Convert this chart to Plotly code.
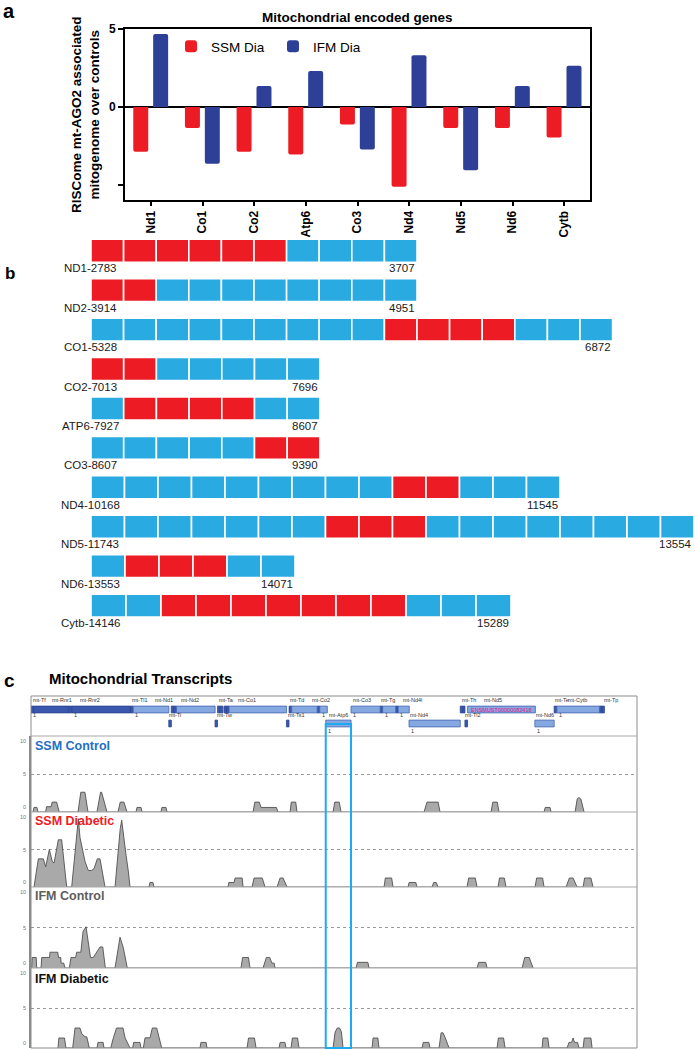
import plotly.graph_objects as go

W, H = 695, 1050
FONT = "Liberation Sans, Arial, sans-serif"
RED = "#ED1C24"
NAVY = "#2E3F98"
CELL_BLUE = "#29ABE2"


def fx(p):
    return p / W


def fy(p):
    return 1 - p / H


# ---------------- Panel a data ----------------
genes_a = ["Nd1", "Co1", "Co2", "Atp6", "Co3", "Nd4", "Nd5", "Nd6", "Cytb"]
ssm_dia = [-2.87, -1.34, -2.87, -3.04, -1.12, -5.11, -1.34, -1.34, -1.96]
ifm_dia = [4.68, -3.64, 1.34, 2.31, -2.72, 3.32, -4.05, 1.34, 2.65]

# ---------------- Panel b data ----------------
row_names = ["ND1-2783", "ND2-3914", "CO1-5328", "CO2-7013", "ATP6-7927",
             "CO3-8607", "ND4-10168", "ND5-11743", "ND6-13553", "Cytb-14146"]
row_ends = ["3707", "4951", "6872", "7696", "8607", "9390", "11545", "13554", "14071", "15289"]
row_cells = [
    "RRRRRRBBBB",
    "RRBBBBBBBB",
    "BBBBBBBBBRRRRBBB",
    "RRBBBBB",
    "BRRRRBB",
    "BBBBBRR",
    "BBBBBBBBBRRBBB",
    "BBBBBBBRRRBBBBBBBB",
    "BRRRBB",
    "BBRRRRRRRBBB",
]
# style: drawn cell size (px) per row, left start of rows
cell_w = [32.6, 32.6, 32.6, 32.7, 32.7, 32.7, 33.5, 33.5, 34.0, 35.0]
ROW_X0 = 91

# ---------------- Panel c data ----------------
gene_names = ["mt-Tf", "mt-Rnr1", "mt-Tv", "mt-Rnr2", "mt-Tl1", "mt-Nd1", "mt-Ti", "mt-Tq", "mt-Tm",
              "mt-Nd2", "mt-Tw", "mt-Ta", "mt-Tn", "mt-Tc", "mt-Ty", "mt-Co1", "mt-Ts1", "mt-Td",
              "mt-Co2", "mt-Tk", "mt-Atp8", "mt-Atp6", "mt-Co3", "mt-Tg", "mt-Nd3", "mt-Tr",
              "mt-Nd4l", "mt-Nd4", "mt-Th", "mt-Ts2", "mt-Tl2", "mt-Nd5", "mt-Nd6", "mt-Te",
              "mt-Cytb", "mt-Tt", "mt-Tp"]
gene_start = [1, 70, 1025, 1094, 2676, 2751, 3706, 3772, 3845, 3914, 4950, 5018, 5089, 5192, 5260,
              5328, 6870, 6942, 7013, 7700, 7766, 7927, 8607, 9391, 9459, 9808, 9877, 10167, 11545,
              11613, 11671, 11742, 13552, 14071, 14145, 15289, 15356]
gene_end = [68, 1024, 1093, 2675, 2750, 3707, 3774, 3842, 3913, 4951, 5016, 5086, 5159, 5257, 5326,
            6872, 6938, 7011, 7696, 7764, 7969, 8607, 9390, 9458, 9806, 9875, 10173, 11544, 11612,
            11671, 11741, 13565, 14070, 14139, 15288, 15355, 15422]
gene_kind = ["t", "r", "t", "r", "t", "m", "t", "t", "t", "m", "t", "t", "t", "t", "t", "m", "t", "t",
             "m", "t", "m", "m", "m", "t", "m", "t", "m", "m", "t", "t", "t", "m", "m", "t", "m", "t", "t"]
gene_row = [1, 1, 1, 1, 1, 1, 2, 1, 1, 1, 2, 1, 1, 1, 1, 1, 2, 1, 1, 1, 1, 2, 1, 1, 1, 1, 1, 2, 1, 1,
            2, 1, 2, 1, 1, 1, 1]

top_labels = ["mt-Tf", "mt-Rnr1", "mt-Rnr2", "mt-Tl1", "mt-Nd1", "mt-Nd2", "mt-Ta", "mt-Co1", "mt-Td",
              "mt-Co2", "mt-Co3", "mt-Tg", "mt-Nd4l", "mt-Th", "mt-Nd5", "mt-Te", "mt-Cytb", "mt-Tp"]
top_label_at = [0, 511, 1264, 2663, 3282, 3981, 5003, 5515, 6913, 7505, 8608, 9361, 9953, 11540,
                12132, 14042, 14392, 15360]
low_labels = ["mt-Ti", "mt-Tw", "mt-Ts1", "mt-Atp6", "mt-Nd4", "mt-Tl2", "mt-Nd6"]
low_label_at = [3658, 4950, 6860, 7962, 10141, 11621, 13530]
top_marks_at = [1, 1094, 2751, 7766, 8607, 9459, 9877, 14145]
low_marks_at = [7927, 10167, 13552]
transcript_id = "ENSMUST00000082418"
highlight_gene = "mt-Atp6"

track_names = ["SSM Control", "SSM Diabetic", "IFM Control", "IFM Diabetic"]
track_ticks = [0, 5, 10]
ssm_control = [(54, 0), (80, 0.6), (161, 0.6), (188, 0),
               (391, 0), (420, 0.7), (540, 0.7), (570, 1.3), (690, 1.3), (720, 0.7), (760, 0),
               (1264, 0), (1340, 2.6), (1450, 2.6), (1533, 0),
               (1775, 0), (1870, 2.6), (1900, 2.6), (2044, 0),
               (2340, 0), (2400, 1.3), (2500, 1.3), (2582, 0),
               (2825, 0), (2850, 0.6), (2960, 0.6), (2986, 0),
               (3497, 0), (3520, 0.6), (3630, 0.6), (3658, 0),
               (5972, 0), (6020, 1.3), (6140, 1.3), (6187, 0.6), (6600, 0.6), (6644, 0),
               (6967, 0), (7000, 1.3), (7120, 1.3), (7155, 0),
               (8124, 0), (8170, 1.3), (8290, 1.3), (8339, 0),
               (10572, 0), (10650, 1.3), (10950, 1.3), (11002, 0),
               (12374, 0), (12420, 1.3), (12540, 1.3), (12589, 0),
               (13800, 0), (13830, 0.6), (13960, 0.6), (13988, 0),
               (14634, 0), (14690, 1.7), (14730, 1.9), (14790, 1.7), (14876, 0)]
ssm_diabetic = [(81, 0), (197, 3.75), (332, 3.75), (395, 2.7), (493, 5.0), (574, 3.4), (620, 3.2),
                (735, 6.3), (825, 6.3), (888, 3.4), (960, 0),
                (1094, 0), (1273, 9.1), (1318, 6.6), (1453, 3.4), (1542, 2.2), (1632, 2.2), (1695, 2.45),
                (1784, 3.75), (1856, 3.75), (1991, 0),
                (2260, 0), (2330, 4.5), (2400, 7.8), (2440, 8.9), (2490, 7.2), (2550, 4.5), (2620, 2.0), (2663, 0),
                (3174, 0), (3200, 0.6), (3280, 0.6), (3309, 0),
                (5299, 0), (5320, 0.6), (5460, 0.6), (5490, 1.2), (5680, 1.2), (5703, 0),
                (5945, 0), (6000, 1.2), (6220, 1.2), (6295, 0),
                (6617, 0), (6700, 1.2), (6780, 1.2), (6886, 0),
                (9496, 0), (9530, 1.2), (9700, 1.2), (9738, 0),
                (10141, 0), (10170, 0.6), (10350, 0.6), (10383, 0),
                (10787, 0), (10830, 0.6), (10900, 0.6), (10948, 0),
                (11728, 0), (11770, 1.2), (11950, 1.2), (11997, 0),
                (12562, 0), (12600, 1.2), (12730, 1.2), (12778, 0),
                (13558, 0), (13600, 1.2), (13760, 1.2), (13800, 0),
                (14392, 0), (14480, 1.2), (14580, 1.2), (14687, 0),
                (14849, 0), (14890, 1.2), (15060, 1.2), (15118, 0)]
ifm_control = [(18, 0), (30, 1.3), (140, 1.3), (153, 0),
               (269, 0), (290, 1.3), (500, 1.3), (510, 1.95), (720, 1.95), (740, 1.3), (800, 1.3),
               (810, 0.6), (880, 0.6), (915, 0),
               (1031, 0), (1076, 1.3), (1200, 1.3), (1229, 1.95), (1340, 1.95), (1400, 4.5), (1480, 5.1),
               (1569, 2.0), (1600, 1.3), (1676, 1.3), (1767, 1.95), (1856, 2.6), (1929, 2.6), (2000, 0),
               (2260, 0), (2394, 3.8), (2483, 2.5), (2590, 0),
               (5649, 0), (5690, 1.3), (5850, 1.3), (5891, 0),
               (6241, 0), (6290, 0.6), (6330, 1.3), (6420, 1.3), (6480, 0.6), (6540, 0.6), (6564, 0),
               (8743, 0), (8780, 0.7), (9060, 0.7), (9092, 0),
               (11997, 0), (12040, 0.7), (12230, 0.7), (12266, 0),
               (13208, 0), (13280, 1.3), (13400, 1.3), (13504, 0)]
ifm_diabetic = [(726, 0), (750, 1.25), (900, 1.25), (941, 0),
                (1121, 0), (1184, 2.5), (1318, 2.5), (1364, 1.8), (1453, 1.4), (1500, 1.4), (1569, 0),
                (1775, 0), (1800, 0.7), (1940, 0.7), (1964, 0),
                (2144, 0), (2215, 1.27), (2300, 2.5), (2475, 2.5), (2530, 1.27), (2663, 0),
                (2735, 0), (2760, 0.7), (2930, 0.7), (2960, 0),
                (3021, 0), (3067, 1.27), (3201, 1.27), (3263, 2.5), (3381, 2.5), (3516, 0),
                (4546, 0), (4570, 0.7), (4710, 0.7), (4734, 0),
                (5810, 0), (5850, 1.25), (6010, 1.25), (6053, 0),
                (6671, 0), (6700, 0.7), (6830, 0.7), (6860, 0),
                (6994, 0), (7030, 1.25), (7170, 1.25), (7209, 0),
                (8124, 0), (8180, 2.0), (8240, 2.5), (8300, 2.5), (8350, 2.0), (8393, 0),
                (9173, 0), (9200, 1.25), (9330, 1.25), (9361, 0),
                (10518, 0), (10550, 0.7), (10700, 0.7), (10733, 0),
                (10975, 0), (11030, 1.9), (11080, 1.9), (11140, 1.3), (11244, 0),
                (12535, 0), (12570, 1.25), (12710, 1.25), (12751, 0),
                (13746, 0), (13770, 1.25), (13900, 1.25), (13934, 0),
                (14418, 0), (14470, 0.7), (14540, 0.7), (14580, 1.25), (14620, 0.7), (14700, 0.7), (14741, 0),
                (14849, 0), (14880, 1.25), (15060, 1.25), (15091, 0)]
tracks = [ssm_control, ssm_diabetic, ifm_control, ifm_diabetic]
GENOME_LEN = 16299

# ---------------- styles / layout constants ----------------
track_colors = ["#1F6FC5", "#ED1C24", "#5E5E5E", "#111111"]
track_px = [(736, 812), (812, 887), (887, 968), (968, 1048)]
track_label_px = [746, 821, 895.5, 978.5]

fig = go.Figure()

# ---- Panel a ----
fig.add_trace(go.Bar(x=genes_a, y=ssm_dia, name="SSM Dia", width=0.29, offset=-0.34,
                     marker=dict(color=RED, line=dict(width=0), cornerradius=2),
                     xaxis="x", yaxis="y"))
fig.add_trace(go.Bar(x=genes_a, y=ifm_dia, name="IFM Dia", width=0.29, offset=0.045,
                     marker=dict(color=NAVY, line=dict(width=0), cornerradius=2),
                     xaxis="x", yaxis="y"))

# ---- Panel b ----
for i, cells in enumerate(row_cells):
    w = cell_w[i]
    n = len(cells)
    fig.add_trace(go.Bar(orientation="h", y=[i] * n, x=[w] * n,
                         base=[ROW_X0 + k * w for k in range(n)],
                         marker=dict(color=[RED if c == "R" else CELL_BLUE for c in cells],
                                     line=dict(color="white", width=1.6)),
                         width=0.583, xaxis="x3", yaxis="y3", showlegend=False, hoverinfo="skip"))

# ---- Panel c: gene annotation track ----
ROW_Y = {1: 26.5, 2: 12.5}
for kind, fill, edge in [("r", "#3A57AE", "#2B448F"), ("t", "#3A57AE", "#2B448F"), ("m", "#86A8E0", "#4466B3")]:
    idx = [k for k in range(len(gene_names)) if gene_kind[k] == kind]
    fig.add_trace(go.Bar(orientation="h",
                         y=[ROW_Y[gene_row[k]] for k in idx],
                         x=[gene_end[k] - gene_start[k] + 1 for k in idx],
                         base=[gene_start[k] for k in idx],
                         width=6.8,
                         marker=dict(color=fill, line=dict(color=edge, width=0.8)),
                         xaxis="x4", yaxis="y4", showlegend=False, hoverinfo="skip"))

# ---- Panel c: coverage tracks ----
for k, tr in enumerate(tracks):
    fig.add_trace(go.Scatter(x=[p for p, _ in tr], y=[v for _, v in tr], mode="lines",
                             fill="tozeroy", fillcolor="#A9A9A9",
                             line=dict(color="#505050", width=0.9),
                             xaxis="x4", yaxis=f"y{5 + k}", showlegend=False, hoverinfo="skip"))

ann = []
shapes = []


def A(**kw):
    base = dict(showarrow=False, xanchor="center", yanchor="middle",
                font=dict(family=FONT, size=12, color="black"))
    f = kw.pop("font", None)
    if f:
        base["font"].update(f)
    base.update(kw)
    ann.append(base)


# panel letters
A(text="<b>a</b>", x=fx(9), y=fy(11), xref="paper", yref="paper", font=dict(size=20))
A(text="<b>b</b>", x=fx(10), y=fy(273), xref="paper", yref="paper", font=dict(size=17))
A(text="<b>c</b>", x=fx(9), y=fy(680), xref="paper", yref="paper", font=dict(size=19))

# panel a texts
A(text="<b>Mitochondrial encoded genes</b>", x=fx(357.5), y=fy(18), xref="paper", yref="paper",
  font=dict(size=13.5))
A(text="<b>RISCome mt-AGO2 associated<br>mitogenome over controls</b>", x=fx(85), y=fy(115),
  xref="paper", yref="paper", textangle=-90, font=dict(size=13.5))

# panel b labels
for i in range(len(row_cells)):
    n = len(row_cells[i])
    A(text=row_names[i], x=ROW_X0 - 1, y=i, xref="x3", yref="y3", yshift=-17.5,
      font=dict(size=11.5, color="#1a1a1a"))
    A(text=row_ends[i], x=ROW_X0 + n * cell_w[i], y=i, xref="x3", yref="y3", yshift=-17.5,
      xanchor="right", font=dict(size=11.5, color="#1a1a1a"))

# panel c texts
A(text="<b>Mitochondrial Transcripts</b>", x=fx(47), y=fy(679), xref="paper", yref="paper",
  xanchor="left", font=dict(size=15))
for k in range(4):
    A(text=f"<b>{track_names[k]}</b>", x=fx(33), y=fy(track_label_px[k]), xref="paper", yref="paper",
      xanchor="left", font=dict(size=12.5, color=track_colors[k]))
    for t in track_ticks:
        anchor = "top" if t == max(track_ticks) else ("bottom" if t == 0 else "middle")
        A(text=str(t), x=fx(28), y=t, xref="paper", yref=f"y{5 + k}", xanchor="right",
          yanchor=anchor, font=dict(size=5.5, color="#777"))
for name, pos in zip(top_labels, top_label_at):
    A(text=name, x=pos, y=36, xref="x4", yref="y4", xanchor="left", font=dict(size=5.5, color="#333"))
for name, pos in zip(low_labels, low_label_at):
    A(text=name, x=pos, y=21, xref="x4", yref="y4", xanchor="left", font=dict(size=5.5, color="#333"))
for pos in top_marks_at:
    A(text="1", x=pos, y=21, xref="x4", yref="y4", xanchor="left", font=dict(size=5.5, color="#333"))
for pos in low_marks_at:
    A(text="1", x=pos, y=5, xref="x4", yref="y4", xanchor="left", font=dict(size=5.5, color="#333"))
nd5 = gene_names.index("mt-Nd5")
A(text=transcript_id, x=(gene_start[nd5] + gene_end[nd5]) / 2, y=ROW_Y[1], xref="x4", yref="y4",
  font=dict(size=5.5, color="#E0218A"))

# frame & separators of panel c
shapes.append(dict(type="rect", xref="paper", yref="paper", x0=fx(31), x1=fx(637), y0=fy(1048), y1=fy(696),
                   line=dict(color="#8C8C8C", width=1)))
for yp in [736, 812, 887, 968]:
    shapes.append(dict(type="line", xref="paper", yref="paper", x0=fx(31), x1=fx(637), y0=fy(yp), y1=fy(yp),
                       line=dict(color="#A8A8A8", width=1)))
hg = gene_names.index(highlight_gene)
shapes.append(dict(type="rect", xref="x4", yref="paper", x0=gene_start[hg], x1=gene_end[hg],
                   y0=fy(1048), y1=fy(724), line=dict(color="#1EAAF0", width=2)))

layout = dict(
    width=W, height=H, margin=dict(l=0, r=0, t=0, b=0, pad=0), autosize=False,
    paper_bgcolor="white", plot_bgcolor="white",
    font=dict(family=FONT, color="black"),
    barmode="overlay",
    showlegend=True,
    legend=dict(orientation="h", x=fx(171), y=fy(31), xanchor="left", yanchor="top",
                font=dict(size=13.5, family=FONT), bgcolor="rgba(0,0,0,0)",
                entrywidth=57, entrywidthmode="pixels", traceorder="normal"),
    xaxis=dict(domain=[fx(125), fx(590)], anchor="y", range=[-0.5, 8.5], type="category",
               categoryorder="array", categoryarray=genes_a, automargin=False,
               showline=True, linecolor="black", linewidth=2, mirror=True,
               ticks="outside", ticklen=4, tickwidth=1.5, tickcolor="black",
               tickangle=-90, tickfont=dict(size=12, family=FONT, weight="bold"),
               showgrid=False, zeroline=False),
    xaxis2=dict(overlaying="x", anchor="y", side="top", range=[-0.5, 8.5], automargin=False,
                tickvals=list(range(len(genes_a))), ticks="inside", ticklen=4, tickwidth=1.5,
                tickcolor="black", showticklabels=False, showgrid=False, zeroline=False, showline=False),
    yaxis=dict(domain=[fy(200), fy(29)], anchor="x", range=[-5.96, 5], automargin=False,
               tickvals=[-5, 0, 5], ticktext=["", "0", "5"],
               ticks="outside", ticklen=5, tickwidth=1.5, tickcolor="black",
               tickfont=dict(size=12, family=FONT, weight="bold"),
               showline=True, linecolor="black", linewidth=2, mirror=True,
               showgrid=False, zeroline=True, zerolinecolor="black", zerolinewidth=2),
    yaxis2=dict(overlaying="y", anchor="x", side="right", range=[-5.96, 5], tickvals=[-5],
                automargin=False,
                ticks="inside", ticklen=4, tickwidth=1.5, tickcolor="black", showticklabels=False,
                showgrid=False, zeroline=False, showline=False),
    xaxis3=dict(domain=[0, 1], anchor="y3", range=[0, W], visible=False, automargin=False),
    yaxis3=dict(domain=[fy(625.3), fy(231)], anchor="x3", range=[9.5, -0.5], visible=False,
                automargin=False),
    xaxis4=dict(domain=[fx(31), fx(637)], anchor="y8", range=[0, GENOME_LEN], visible=False,
                automargin=False),
    yaxis4=dict(domain=[fy(736), fy(696)], anchor="x4", range=[0, 40], visible=False, automargin=False),
    annotations=ann, shapes=shapes,
)
for k in range(4):
    top, bot = track_px[k]
    layout[f"yaxis{5 + k}"] = dict(
        domain=[fy(bot), fy(top)], anchor="x4", range=[0, 10], automargin=False,
        tickvals=track_ticks, showticklabels=False, ticks="",
        showgrid=True, gridcolor="#9A9A9A", griddash="dot", gridwidth=1,
        zeroline=False, showline=True, linecolor="#8A8A8A", linewidth=1.5)

fig.update_layout(**layout)
fig.write_html("out.html", config={"displayModeBar": False},
               post_script="document.body.style.margin='0';document.body.style.overflow='hidden';")
